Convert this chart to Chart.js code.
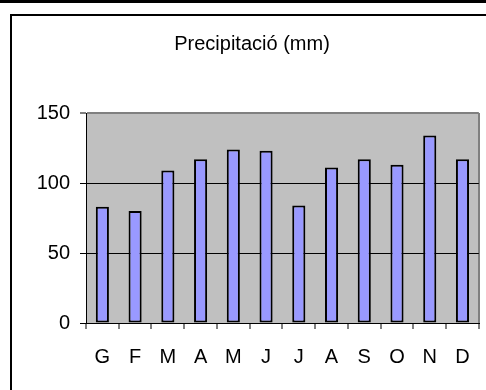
<!DOCTYPE html>
<html>
<head>
<meta charset="utf-8">
<script src="https://cdn.jsdelivr.net/npm/chart.js@4"></script>
<style>
  html, body { margin: 0; padding: 0; background: #fff; }
  body { width: 486px; height: 390px; position: relative; overflow: hidden; }
  #topband { position: absolute; left: 0; top: 0; width: 486px; height: 3px; background: #000; }
  #frame { position: absolute; left: 10px; top: 14px; width: 500px; height: 400px;
           border-left: 2px solid #000; border-top: 2px solid #000; box-sizing: border-box; }
  #wrap { position: absolute; left: 0; top: 0; width: 486px; height: 390px; }
</style>
</head>
<body>
<div id="topband"></div>
<div id="frame"></div>
<div id="wrap"><canvas id="chart" width="486" height="390"></canvas></div>
<script>
// Data
const months = ['G', 'F', 'M', 'A', 'M', 'J', 'J', 'A', 'S', 'O', 'N', 'D'];
const precipitation = [83, 80, 109, 117, 124, 123, 84, 111, 117, 113, 134, 117];
const yTicks = [0, 50, 100, 150];
const chartTitle = 'Precipitació (mm)';

// gray plot area
const plotBackground = {
    id: 'plotBackground',
    beforeDraw(chart) {
        const { ctx, chartArea } = chart;
        ctx.save();
        ctx.fillStyle = '#C0C0C0';
        ctx.fillRect(chartArea.left, chartArea.top, chartArea.right - chartArea.left, chartArea.bottom - chartArea.top);
        ctx.restore();
    }
};

const fontFamily = '"Liberation Sans", Arial, sans-serif';

new Chart(document.getElementById('chart'), {
    type: 'bar',
    data: {
        labels: months,
        datasets: [{
            label: chartTitle,
            data: precipitation,
            backgroundColor: '#9999FF',
            borderColor: '#000000',
            borderWidth: 2,
            borderSkipped: false,
            barPercentage: 0.4,
            categoryPercentage: 1
        }]
    },
    options: {
        responsive: false,
        animation: false,
        layout: { padding: { left: 25, right: 7, top: 0, bottom: 0 } },
        scales: {
            x: {
                offset: true,
                grid: {
                    offset: true,
                    drawOnChartArea: true,
                    color: (c) => c.type === 'tick' ? 'transparent' : '#808080',
                    lineWidth: 2,
                    tickColor: '#000',
                    tickLength: 6,
                    tickWidth: 1
                },
                border: { display: true, color: '#000', width: 1 },
                ticks: {
                    color: '#000',
                    padding: 16,
                    font: { family: fontFamily, size: 20 },
                    maxRotation: 0,
                    autoSkip: false
                },
                afterFit: (scale) => { scale.height = 67; }
            },
            y: {
                min: 0,
                max: 150,
                afterBuildTicks: (scale) => { scale.ticks = yTicks.map(v => ({ value: v })); },
                grid: {
                    color: (c) => c.tick && c.tick.value === 150 ? '#808080' : '#000',
                    lineWidth: (c) => c.tick && c.tick.value === 150 ? 2 : 1,
                    tickColor: '#000',
                    tickLength: 6,
                    tickWidth: 1
                },
                border: { display: true, color: '#000', width: 1 },
                ticks: {
                    color: '#000',
                    padding: 10,
                    font: { family: fontFamily, size: 20 }
                },
                afterFit: (scale) => { scale.width = 61; }
            }
        },
        plugins: {
            legend: { display: false },
            tooltip: { enabled: false },
            title: {
                display: true,
                text: chartTitle,
                color: '#000',
                font: { family: fontFamily, size: 20, weight: 'normal' },
                padding: { top: 32, bottom: 57 }
            }
        }
    },
    plugins: [plotBackground]
});
</script>
</body>
</html>
